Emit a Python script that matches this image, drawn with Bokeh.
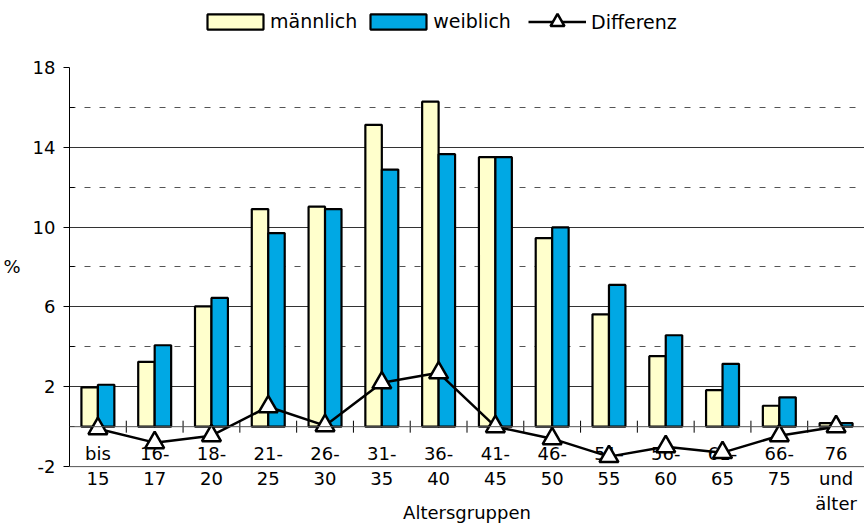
from bokeh.plotting import figure
from bokeh.models import (ColumnDataSource, Range1d, FixedTicker, Span, LinearAxis,
                          Legend, LegendItem)
from bokeh.core.properties import value
from bokeh.embed import file_html
from bokeh.resources import INLINE

# Age groups (labels are stacked over several lines below the axis)
age_groups = ["bis\n15", "16-\n17", "18-\n20", "21-\n25", "26-\n30", "31-\n35",
              "36-\n40", "41-\n45", "46-\n50", "51-\n55", "56-\n60", "61-\n65",
              "66-\n75", "76\nund\nälter"]

# Share of each age group in percent
maennlich = [1.97, 3.25, 6.03, 10.9, 11.02, 15.12, 16.28, 13.5, 9.45, 5.63, 3.53, 1.83, 1.05, 0.18]
weiblich = [2.1, 4.08, 6.45, 9.7, 10.9, 12.88, 13.65, 13.5, 9.98, 7.1, 4.58, 3.15, 1.47, 0.18]
differenz = [-0.1, -0.8, -0.45, 1.0, 0.05, 2.2, 2.7, 0.0, -0.6, -1.5, -1.0, -1.3, -0.45, 0.0]

y_major = [-2, 2, 6, 10, 14, 18]
y_minor = [0, 4, 8, 12, 16]

FONT = "DejaVu Sans"
YELLOW = "#FFFFCC"
BLUE = "#00A8E4"

n = len(age_groups)
xs = list(range(n))
bar_w = 0.29

src = ColumnDataSource(dict(
    x=xs,
    xm=[x - bar_w / 2 for x in xs],
    xw=[x + bar_w / 2 for x in xs],
    m=maennlich, w=weiblich, d=differenz,
))

# the frame reaches the top edge so the legend can sit inside it
p = figure(width=864, height=524, output_backend="svg", toolbar_location=None,
           x_range=Range1d(-0.5, n - 0.5), y_range=Range1d(-4.9, 21.35),
           x_axis_location=None, min_border_left=69, min_border_right=0,
           min_border_top=0, min_border_bottom=0)
p.outline_line_color = None
p.background_fill_color = "white"
p.xgrid.visible = False

# y axis: labelled ticks outside, minor ticks inside
yax = p.yaxis[0]
yax.ticker = FixedTicker(ticks=y_major, minor_ticks=y_minor)
yax.major_label_overrides = {t: str(t) for t in y_major}
yax.bounds = (-2, 18)
yax.axis_line_color = "black"
yax.axis_line_width = 1
yax.major_tick_out = 6
yax.major_tick_in = 0
yax.minor_tick_in = 5
yax.minor_tick_out = 0
yax.major_tick_line_color = "black"
yax.minor_tick_line_color = "black"
yax.major_label_standoff = 8
yax.major_label_text_font = FONT
yax.major_label_text_font_size = "18px"
yax.major_label_text_color = "black"

# unit caption as a second, bare axis left of the value axis
unit_axis = LinearAxis(ticker=FixedTicker(ticks=[8], minor_ticks=[]),
                       major_label_overrides={8: "%"},
                       axis_line_color=None, major_tick_line_color=None,
                       minor_tick_line_color=None, major_tick_out=0, major_tick_in=0,
                       minor_tick_out=0, minor_tick_in=0, major_label_standoff=9,
                       major_label_text_font=FONT, major_label_text_font_size="18px",
                       major_label_text_color="black")
p.add_layout(unit_axis, "left")

# horizontal grid: solid at labelled values, dashed in between
p.ygrid.ticker = FixedTicker(ticks=[t for t in y_major if 0 < t < 18],
                             minor_ticks=[t for t in y_minor if t > 0])
p.ygrid.grid_line_color = "#333333"
p.ygrid.grid_line_width = 1
p.ygrid.minor_grid_line_color = "#555555"
p.ygrid.minor_grid_line_dash = "6 9"
p.ygrid.minor_grid_line_width = 1

# category axis at zero and lower border
p.add_layout(Span(location=0, dimension="width", line_color="#555555", line_width=1))
p.add_layout(Span(location=-2, dimension="width", line_color="#555555", line_width=1))
bounds = [i + 0.5 for i in range(n - 1)]
p.segment(x0=bounds, x1=bounds, y0=[-0.3] * len(bounds), y1=[0.3] * len(bounds),
          line_color="black", line_width=1)

# bars
r_m = p.vbar(x="xm", top="m", bottom=0, width=bar_w, source=src,
             fill_color=YELLOW, line_color="black", line_width=2.2)
r_w = p.vbar(x="xw", top="w", bottom=0, width=bar_w, source=src,
             fill_color=BLUE, line_color="black", line_width=2.2)

# category labels, one row of text per line
tx, ty, tt = [], [], []
for i, lab in enumerate(age_groups):
    for j, part in enumerate(lab.split("\n")):
        tx.append(i)
        ty.append(-1.35 - 1.25 * j)
        tt.append(part)
p.text(x=tx, y=ty, text=tt, text_align="center", text_baseline="middle",
       text_font=value(FONT), text_font_size="18px", text_color="black")

p.text(x=[(n - 1) / 2], y=[-4.3], text=["Altersgruppen"], text_align="center",
       text_baseline="middle", text_font=value(FONT), text_font_size="18px",
       text_color="black")

# difference line with triangle markers
r_l = p.line(x="x", y="d", source=src, line_color="black", line_width=2.5)
r_s = p.scatter(x="x", y="d", source=src, marker="triangle", size=19,
                fill_color="white", line_color="black", line_width=2.5)

legend_style = dict(orientation="horizontal", padding=0, margin=0,
                    border_line_alpha=0, background_fill_alpha=0,
                    label_text_font=FONT, label_text_font_size="19px",
                    label_text_color="black")

bar_legend = Legend(items=[LegendItem(label="männlich", renderers=[r_m]),
                           LegendItem(label="weiblich", renderers=[r_w])],
                    location=(131, 492), glyph_width=70, glyph_height=19,
                    label_standoff=0, spacing=6, **legend_style)
line_legend = Legend(items=[LegendItem(label="Differenz", renderers=[r_l, r_s])],
                     location=(459, 485), glyph_width=58, glyph_height=35,
                     label_standoff=5, **legend_style)
p.add_layout(bar_legend, "center")
p.add_layout(line_legend, "center")

open("out.html", "w").write(file_html(p, INLINE))
